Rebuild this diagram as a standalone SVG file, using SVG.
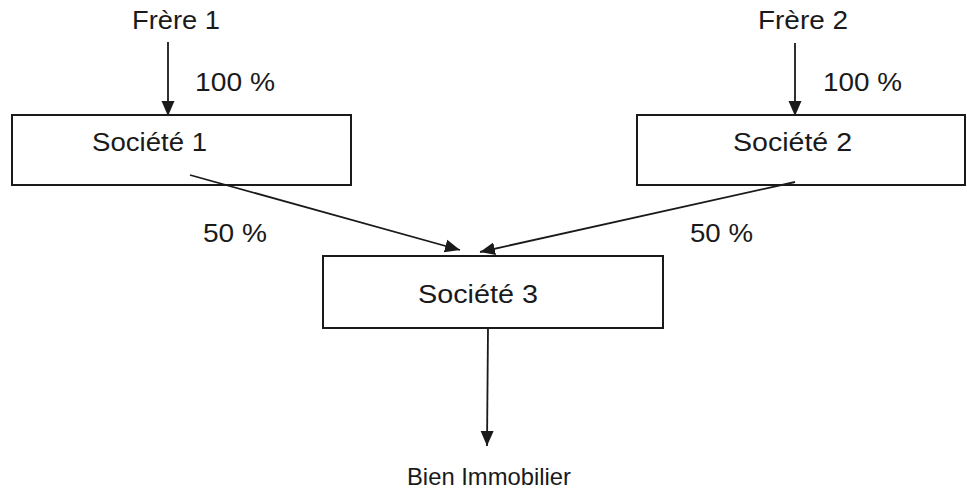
<svg xmlns="http://www.w3.org/2000/svg" width="967" height="490" viewBox="0 0 967 490">
<style>
.box{fill:#fff;stroke:#1a1a1a;stroke-width:2}
.t{font-family:"Liberation Sans",Arial,sans-serif;font-size:26px;fill:#1a1a1a}
.c{stroke:#1a1a1a;stroke-width:1.8;fill:none;marker-end:url(#ah)}
</style>
<defs>
<marker id="ah" markerUnits="userSpaceOnUse" markerWidth="16" markerHeight="14" viewBox="0 0 16 14" refX="15" refY="7" orient="auto">
<path d="M0,0.5 L15,7 L0,13.5 z" fill="#1a1a1a"/>
</marker>
</defs>
<rect width="967" height="490" fill="#fff"/>
<g id="frere1"><text class="t" x="132" y="29" textLength="88" lengthAdjust="spacingAndGlyphs">Frère 1</text></g>
<g id="frere2"><text class="t" x="758" y="29" textLength="90" lengthAdjust="spacingAndGlyphs">Frère 2</text></g>
<g id="societe1"><rect class="box" x="12" y="115" width="339" height="70"/><text class="t" x="92" y="151" textLength="115" lengthAdjust="spacingAndGlyphs">Société 1</text></g>
<g id="societe2"><rect class="box" x="637" y="115" width="328" height="70"/><text class="t" x="733" y="151" textLength="119" lengthAdjust="spacingAndGlyphs">Société 2</text></g>
<g id="societe3"><rect class="box" x="323" y="256" width="340" height="72"/><text class="t" x="418" y="303" textLength="120" lengthAdjust="spacingAndGlyphs">Société 3</text></g>
<g id="bien"><text class="t" x="407" y="485" style="font-size:24px" textLength="164" lengthAdjust="spacingAndGlyphs">Bien Immobilier</text></g>
<g id="connectors">
<line class="c" x1="168" y1="42" x2="168" y2="116"/>
<line class="c" x1="795" y1="43" x2="795" y2="116"/>
<line class="c" x1="190" y1="175" x2="460" y2="250"/>
<line class="c" x1="795" y1="182" x2="480" y2="252"/>
<line class="c" x1="488" y1="328" x2="487" y2="446"/>
<text class="t" x="195" y="91" textLength="80" lengthAdjust="spacingAndGlyphs">100 %</text>
<text class="t" x="823" y="91" textLength="79" lengthAdjust="spacingAndGlyphs">100 %</text>
<text class="t" x="203" y="242" textLength="64" lengthAdjust="spacingAndGlyphs">50 %</text>
<text class="t" x="690" y="242" textLength="63" lengthAdjust="spacingAndGlyphs">50 %</text>
</g>
</svg>
